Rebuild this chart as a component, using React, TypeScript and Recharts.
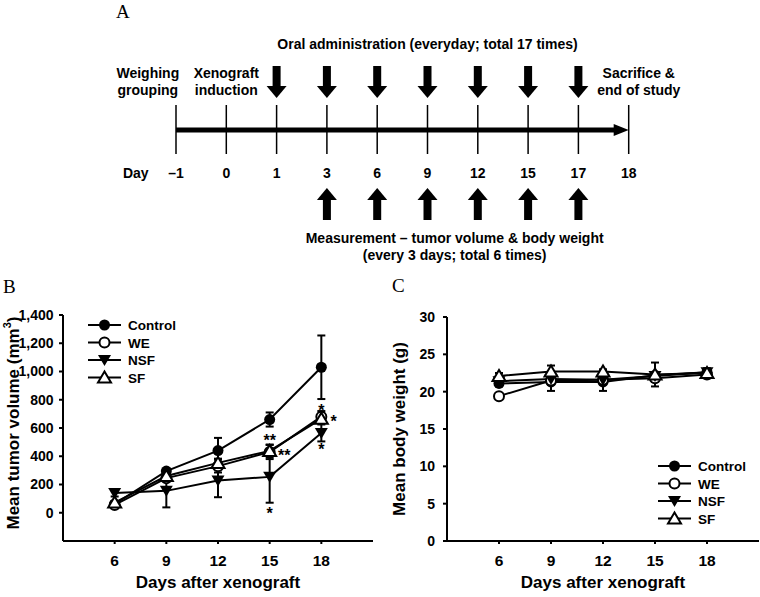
import React from 'react';
import {
  ComposedChart,
  Line,
  Scatter,
  XAxis,
  YAxis,
  ErrorBar,
  ReferenceLine,
  ReferenceDot,
} from 'recharts';

const FONT = '"Liberation Sans", Arial, Helvetica, sans-serif';
const SERIF = '"Liberation Serif", "Times New Roman", serif';

// ---- Panel A: study schedule ----
const TIMELINE_DAYS = ['–1', '0', '1', '3', '6', '9', '12', '15', '17', '18'];
const DOSING_DAYS = ['1', '3', '6', '9', '12', '15', '17'];
const MEASURE_DAYS = ['3', '6', '9', '12', '15', '17'];

// ---- Panels B & C ----
const DAYS = [6, 9, 12, 15, 18];
const DAY_TICKS = [6, 9, 12, 15, 18];

const TUMOR_CONTROL = [62, 295, 440, 660, 1030];
const TUMOR_CONTROL_ERR = [12, 15, 90, 50, 225];
const TUMOR_WE = [55, 245, 330, 430, 680];
const TUMOR_WE_ERR = [10, 20, 45, 50, 40];
const TUMOR_NSF = [140, 155, 228, 254, 565];
const TUMOR_NSF_ERR = [25, 117, 118, 183, 60];
const TUMOR_SF = [72, 260, 353, 438, 665];
const TUMOR_SF_ERR = [10, 20, 30, 45, 30];
const TUMOR_TICKS = [0, 200, 400, 600, 800, 1000, 1200, 1400];

const WEIGHT_CONTROL = [21.1, 21.3, 21.3, 22.2, 22.6];
const WEIGHT_CONTROL_ERR = [0.4, 1.2, 1.2, 0.4, 0.5];
const WEIGHT_WE = [19.4, 21.5, 21.6, 21.8, 22.3];
const WEIGHT_WE_ERR = [0.3, 0.4, 0.3, 0.5, 0.5];
const WEIGHT_NSF = [21.4, 21.7, 21.6, 22.1, 22.6];
const WEIGHT_NSF_ERR = [0.4, 0.5, 0.4, 0.5, 0.5];
const WEIGHT_SF = [22.1, 22.7, 22.7, 22.3, 22.5];
const WEIGHT_SF_ERR = [0.4, 0.8, 0.3, 1.6, 0.4];
const WEIGHT_TICKS = [0, 5, 10, 15, 20, 25, 30];

// significance marks in panel B
const TUMOR_STARS = [
  { day: 15, value: 537, text: '**' },
  { day: 15.84, value: 428, text: '**' },
  { day: 15, value: 16, text: '*' },
  { day: 18, value: 751, text: '*' },
  { day: 18.72, value: 671, text: '*' },
  { day: 18, value: 470, text: '*' },
];

const SERIES = [
  { key: 'control', name: 'Control', marker: 'filledCircle' },
  { key: 'we', name: 'WE', marker: 'openCircle' },
  { key: 'nsf', name: 'NSF', marker: 'downTriangle' },
  { key: 'sf', name: 'SF', marker: 'upTriangle' },
];

const buildRows = (c, ce, w, we, n, ne, s, se) =>
  DAYS.map((day, i) => ({
    day,
    control: c[i], controlErr: ce[i],
    we: w[i], weErr: we[i],
    nsf: n[i], nsfErr: ne[i],
    sf: s[i], sfErr: se[i],
  }));

const tumorRows = buildRows(
  TUMOR_CONTROL, TUMOR_CONTROL_ERR, TUMOR_WE, TUMOR_WE_ERR,
  TUMOR_NSF, TUMOR_NSF_ERR, TUMOR_SF, TUMOR_SF_ERR
);
const weightRows = buildRows(
  WEIGHT_CONTROL, WEIGHT_CONTROL_ERR, WEIGHT_WE, WEIGHT_WE_ERR,
  WEIGHT_NSF, WEIGHT_NSF_ERR, WEIGHT_SF, WEIGHT_SF_ERR
);

function Marker({ kind, cx, cy }: any) {
  if (cx == null || cy == null) return null;
  if (kind === 'filledCircle') return <circle cx={cx} cy={cy} r={5.5} fill="#000" />;
  if (kind === 'openCircle')
    return <circle cx={cx} cy={cy} r={5} fill="#fff" stroke="#000" strokeWidth={2} />;
  if (kind === 'downTriangle')
    return <polygon points={`${cx - 6.5},${cy - 5} ${cx + 6.5},${cy - 5} ${cx},${cy + 6}`} fill="#000" />;
  return (
    <polygon
      points={`${cx},${cy - 6} ${cx - 6.5},${cy + 5} ${cx + 6.5},${cy + 5}`}
      fill="#fff"
      stroke="#000"
      strokeWidth={2}
    />
  );
}

// legend box drawn over the panel (left/top relative to the panel)
function SeriesLegend({ left, top }: any) {
  return (
    <svg
      width={100}
      height={72}
      style={{ position: 'absolute', left, top, display: 'block', pointerEvents: 'none' }}
    >
      {SERIES.map((s, i) => {
        const y = 9 + i * 17.5;
        return (
          <g key={s.key}>
            <line x1={0} x2={33} y1={y} y2={y} stroke="#000" strokeWidth={2} />
            <Marker kind={s.marker} cx={16.5} cy={y} />
            <text x={40} y={y + 5} fontSize={13.5} fontWeight="bold" fontFamily={FONT} fill="#000">
              {s.name}
            </text>
          </g>
        );
      })}
    </svg>
  );
}

function YTitle({ viewBox, x0, shift = 0, children }: any) {
  if (!viewBox) return null;
  const cx = viewBox.x + x0;
  const cy = viewBox.y + viewBox.height / 2 + shift;
  return (
    <text
      x={cx}
      y={cy}
      transform={`rotate(-90 ${cx} ${cy})`}
      textAnchor="middle"
      dominantBaseline="central"
      fontSize={17}
      fontWeight="bold"
      fontFamily={FONT}
      fill="#000"
    >
      {children}
    </text>
  );
}

const axisLine = { stroke: '#000', strokeWidth: 2 };
const xTickStyle = { fill: '#000', fontSize: 15.5, fontWeight: 'bold', fontFamily: FONT };
const yTickStyle = { fill: '#000', fontSize: 14, fontWeight: 'bold', fontFamily: FONT };

function GrowthPanel({ rows, yDomain, yTicks, yWidth, yTickMargin, marginTop, marginRight, title, titleX, titleShift, legendPos, tickFmt, stars }: any) {
  return (
    <div style={{ position: 'relative', width: 380, height: 307 }}>
      <ComposedChart
        width={380}
        height={307}
        data={rows}
        margin={{ top: marginTop, right: marginRight, bottom: 4, left: 0 }}
      >
        <XAxis
          dataKey="day"
          type="number"
          domain={[3, 21]}
          ticks={DAY_TICKS}
          allowDataOverflow
          axisLine={axisLine}
          tickLine={axisLine}
          tickSize={3}
          tickMargin={11}
          tick={xTickStyle}
          height={52}
          label={{
            value: 'Days after xenograft',
            position: 'insideBottom',
            offset: 5,
            fontSize: 17,
            fontWeight: 'bold',
            fontFamily: FONT,
            fill: '#000',
          }}
        />
        <YAxis
          type="number"
          domain={yDomain}
          ticks={yTicks}
          allowDataOverflow
          width={yWidth}
          axisLine={axisLine}
          tickLine={axisLine}
          tickSize={4}
          tickMargin={yTickMargin}
          tick={yTickStyle}
          tickFormatter={tickFmt}
          label={<YTitle x0={titleX} shift={titleShift}>{title}</YTitle>}
        />
        {SERIES.map((s) => (
          <Line
            key={s.key}
            dataKey={s.key}
            stroke="#000"
            strokeWidth={2}
            isAnimationActive={false}
            dot={(p: any) => <Marker key={`${s.key}-${p.index}`} kind={s.marker} cx={p.cx} cy={p.cy} />}
            activeDot={false}
          >
            <ErrorBar dataKey={`${s.key}Err`} direction="y" width={4} strokeWidth={2} stroke="#000" />
          </Line>
        ))}
        {(stars || []).map((st: any, i: number) => (
          <ReferenceDot
            key={i}
            x={st.day}
            y={st.value}
            r={0}
            shape={(p: any) => (
              <text
                x={p.cx}
                y={p.cy + 9}
                textAnchor="middle"
                fontSize={16}
                fontWeight="bold"
                fontFamily={FONT}
                fill="#000"
              >
                {st.text}
              </text>
            )}
          />
        ))}
      </ComposedChart>
      <SeriesLegend left={legendPos[0]} top={legendPos[1]} />
    </div>
  );
}

// ---- Panel A layout (rows in px, columns in timeline slots) ----
const A_ORIGIN = 176;
const A_STEP = 50.3;
const AXIS_Y = 130;
const TICK_TOP = 105;
const TICK_BOTTOM = 154;
const DOWN_TOP = 66;
const UP_TIP = 188;
const DAY_ROW = 173;

const slot = (d: string) => TIMELINE_DAYS.indexOf(d);

const A_NOTES = [
  { x: 5, y: 44, lines: ['Oral administration (everyday; total 17 times)'] },
  { x: -0.56, y: 72.5, lines: ['Weighing', 'grouping'] },
  { x: 1, y: 72.5, lines: ['Xenograft', 'induction'] },
  { x: 9.2, y: 72.5, lines: ['Sacrifice &', 'end of study'] },
  { x: -0.8, y: DAY_ROW, lines: ['Day'] },
  { x: 5.54, y: 238, lines: ['Measurement – tumor volume & body weight', '(every 3 days; total 6 times)'] },
  ...TIMELINE_DAYS.map((d, i) => ({ x: i, y: DAY_ROW, lines: [d] })),
];

const downArrows = DOSING_DAYS.map((d) => ({ x: slot(d), y: DOWN_TOP }));
const upArrows = MEASURE_DAYS.map((d) => ({ x: slot(d), y: UP_TIP }));

function DownArrow({ cx, cy }: any) {
  return (
    <g>
      <rect x={cx - 4} y={cy} width={8} height={21} fill="#000" />
      <polygon points={`${cx - 10},${cy + 20} ${cx + 10},${cy + 20} ${cx},${cy + 32}`} fill="#000" />
    </g>
  );
}

function UpArrow({ cx, cy }: any) {
  return (
    <g>
      <polygon points={`${cx},${cy} ${cx - 10},${cy + 12} ${cx + 10},${cy + 12}`} fill="#000" />
      <rect x={cx - 4} y={cy + 11} width={8} height={21} fill="#000" />
    </g>
  );
}

function NoteText({ cx, cy, payload }: any) {
  return (
    <text textAnchor="middle" fontSize={14} fontWeight="bold" fontFamily={FONT} fill="#000">
      {payload.lines.map((l: string, i: number) => (
        <tspan key={i} x={cx} y={cy + 5 + i * 17}>
          {l}
        </tspan>
      ))}
    </text>
  );
}

function ScheduleChart() {
  return (
    <ComposedChart width={760} height={280} margin={{ top: 0, right: 0, bottom: 0, left: 0 }}>
      <XAxis
        dataKey="x"
        type="number"
        hide
        allowDataOverflow
        domain={[-A_ORIGIN / A_STEP, (760 - A_ORIGIN) / A_STEP]}
      />
      <YAxis dataKey="y" type="number" hide allowDataOverflow reversed domain={[0, 280]} />
      {TIMELINE_DAYS.map((d, i) => (
        <ReferenceLine
          key={d}
          segment={[{ x: i, y: TICK_TOP }, { x: i, y: TICK_BOTTOM }]}
          stroke="#000"
          strokeWidth={1.5}
        />
      ))}
      <ReferenceLine
        segment={[{ x: 0, y: AXIS_Y }, { x: 8.72, y: AXIS_Y }]}
        stroke="#000"
        strokeWidth={5}
      />
      <Scatter
        data={[{ x: TIMELINE_DAYS.length - 1, y: AXIS_Y }]}
        isAnimationActive={false}
        shape={({ cx, cy }: any) => (
          <polygon points={`${cx},${cy} ${cx - 15},${cy - 6} ${cx - 15},${cy + 6}`} fill="#000" />
        )}
      />
      <Scatter data={downArrows} isAnimationActive={false} shape={<DownArrow />} />
      <Scatter data={upArrows} isAnimationActive={false} shape={<UpArrow />} />
      <Scatter data={A_NOTES} isAnimationActive={false} shape={<NoteText />} />
    </ComposedChart>
  );
}

export default function App() {
  return (
    <div style={{ position: 'absolute', left: 0, top: 0, width: 760, height: 597, background: '#fff' }}>
      <div style={{ position: 'absolute', left: 0, top: 0 }}>
        <ScheduleChart />
      </div>
      <div style={{ position: 'absolute', left: 0, top: 290 }}>
        <GrowthPanel
          rows={tumorRows}
          yDomain={[-200, 1400]}
          yTicks={TUMOR_TICKS}
          yWidth={63}
          yTickMargin={5.5}
          marginTop={25}
          marginRight={7}
          title={
            <>
              Mean tumor volume (mm<tspan dy={-6} fontSize={11}>3</tspan>
              <tspan dy={6}>)</tspan>
            </>
          }
          titleX={13}
          titleShift={-5}
          legendPos={[88, 26]}
          tickFmt={(v: number) => v.toLocaleString('en-US')}
          stars={TUMOR_STARS}
        />
      </div>
      <div style={{ position: 'absolute', left: 380, top: 290 }}>
        <GrowthPanel
          rows={weightRows}
          yDomain={[0, 30]}
          yTicks={WEIGHT_TICKS}
          yWidth={67}
          yTickMargin={8}
          marginTop={27}
          marginRight={1}
          title="Mean body weight (g)"
          titleX={19}
          titleShift={0}
          legendPos={[278, 167]}
          tickFmt={(v: number) => String(v)}
        />
      </div>
      <svg
        width={760}
        height={597}
        style={{ position: 'absolute', left: 0, top: 0, pointerEvents: 'none' }}
      >
        <text x={116} y={18} fontSize={19} fontFamily={SERIF} fill="#000">A</text>
        <text x={3} y={293} fontSize={19} fontFamily={SERIF} fill="#000">B</text>
        <text x={392} y={292} fontSize={19} fontFamily={SERIF} fill="#000">C</text>
      </svg>
    </div>
  );
}
